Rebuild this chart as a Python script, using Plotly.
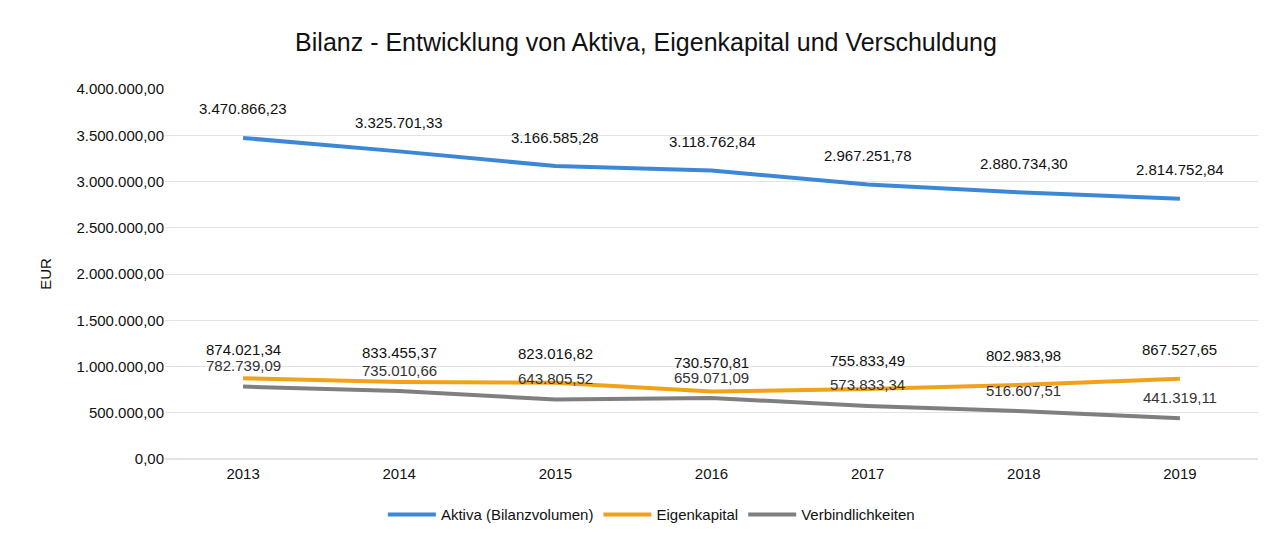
import plotly.graph_objects as go

years = ["2013", "2014", "2015", "2016", "2017", "2018", "2019"]
aktiva = [3470866.23, 3325701.33, 3166585.28, 3118762.84, 2967251.78, 2880734.30, 2814752.84]
eigenkapital = [874021.34, 833455.37, 823016.82, 730570.81, 755833.49, 802983.98, 867527.65]
verbindlichkeiten = [782739.09, 735010.66, 643805.52, 659071.09, 573833.34, 516607.51, 441319.11]
y_ticks = [0, 500000, 1000000, 1500000, 2000000, 2500000, 3000000, 3500000, 4000000]


def de(v):
    s = f"{v:,.2f}"
    return s.replace(",", "X").replace(".", ",").replace("X", ".")


FONT = "Liberation Sans, Arial, sans-serif"
c_blue = "#3d88d6"
c_orange = "#f0a318"
c_gray = "#7f7f7f"

fig = go.Figure()
fig.add_trace(go.Scatter(x=years, y=aktiva, mode="lines", name="Aktiva (Bilanzvolumen)",
                         line=dict(color=c_blue, width=4)))
fig.add_trace(go.Scatter(x=years, y=eigenkapital, mode="lines", name="Eigenkapital",
                         line=dict(color=c_orange, width=4)))
fig.add_trace(go.Scatter(x=years, y=verbindlichkeiten, mode="lines", name="Verbindlichkeiten",
                         line=dict(color=c_gray, width=4)))

ann = []
for i, (a, e, v) in enumerate(zip(aktiva, eigenkapital, verbindlichkeiten)):
    ann.append(dict(x=i, y=a, xref="x", yref="y", text=de(a), showarrow=False, yshift=29,
                    font=dict(size=15, color="#111", family=FONT)))
    ann.append(dict(x=i, y=e, xref="x", yref="y", text=de(e), showarrow=False, yshift=29,
                    font=dict(size=15, color="#111", family=FONT)))
    ann.append(dict(x=i, y=v, xref="x", yref="y", text=de(v), showarrow=False, yshift=21,
                    font=dict(size=15, color="#333", family=FONT)))

fig.update_layout(
    width=1285, height=544,
    margin=dict(l=157, r=35, t=81, b=93),
    paper_bgcolor="white", plot_bgcolor="white",
    title=dict(text="Bilanz - Entwicklung von Aktiva, Eigenkapital und Verschuldung",
               x=0.4965, xanchor="center", y=0.9375, yanchor="middle",
               font=dict(size=25, color="#111", family=FONT)),
    font=dict(family=FONT, size=15, color="#111"),
    xaxis=dict(type="category", range=[-0.5, 6.5], showgrid=False, showline=False,
               ticks="", tickfont=dict(size=15, color="#111"), ticklabelstandoff=4,
               automargin=False),
    yaxis=dict(range=[0, 4000000], tickvals=y_ticks, ticktext=[de(t) for t in y_ticks],
               showgrid=True, gridcolor="#e3e3e3", gridwidth=1, zeroline=True,
               zerolinecolor="#e3e3e3", showline=False, ticks="",
               tickfont=dict(size=15, color="#111"), automargin=False,
               title=dict(text="EUR", font=dict(size=15, color="#111"), standoff=21)),
    legend=dict(orientation="h", x=0.445, xanchor="center", y=-0.151, yanchor="middle",
                font=dict(size=15, color="#111"), itemwidth=48),
    annotations=ann,
    showlegend=True,
)

fig.write_html("out.html")
